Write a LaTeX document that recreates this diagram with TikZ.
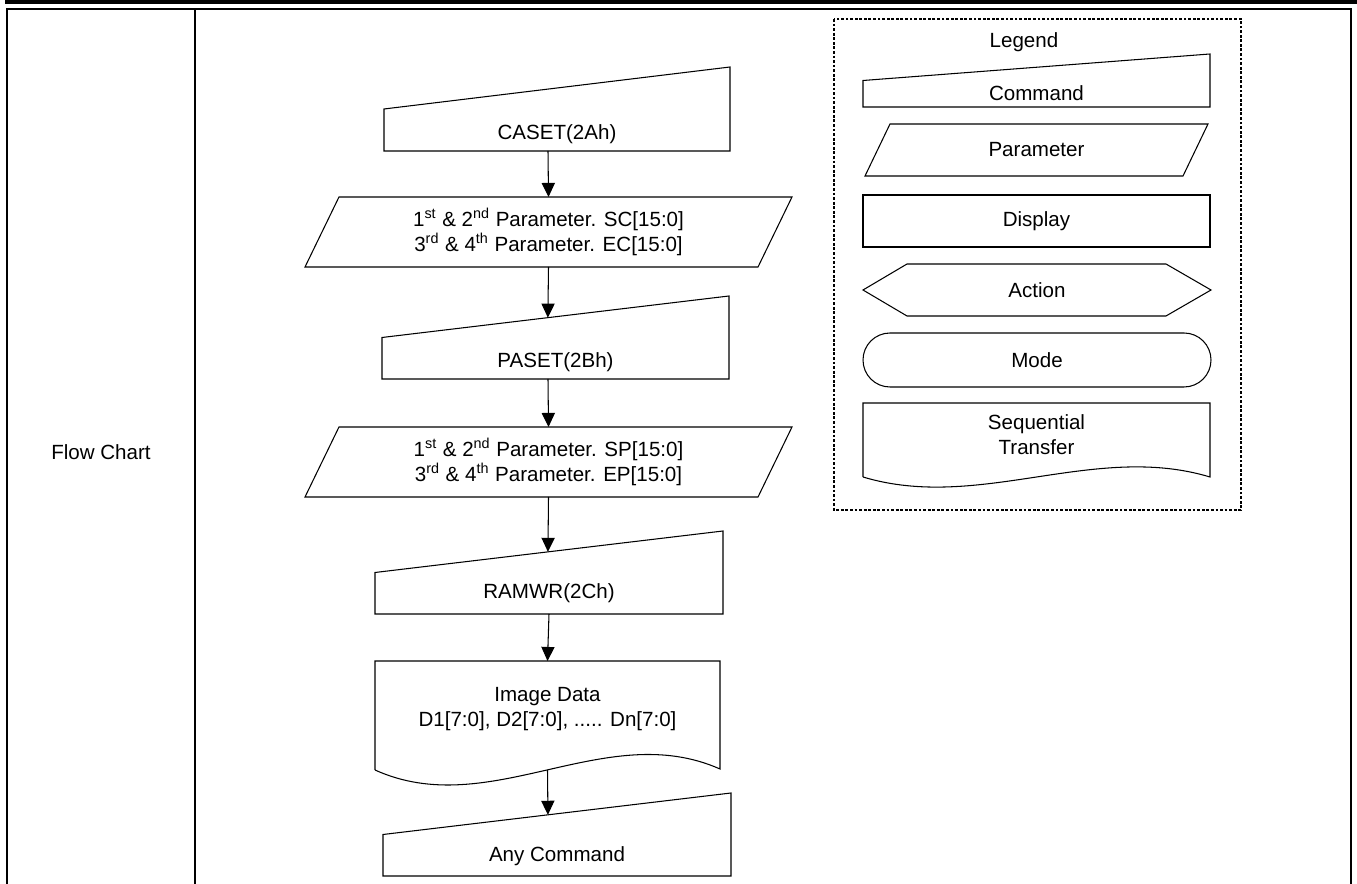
\documentclass[tikz,border=0pt]{standalone}
\usepackage{fontspec}
\setmainfont{Liberation Sans}
\usetikzlibrary{arrows.meta,calc}
\begin{document}
\begin{tikzpicture}[x=0.02cm,y=-0.02cm,
  font=\fontsize{11.7}{14}\selectfont,
  shp/.style={draw=black,line width=0.6pt,line join=miter},
  box/.style 2 args={minimum width=#1*0.02cm,minimum height=#2*0.02cm,inner sep=0pt,outer sep=0pt,align=center},
  txt/.style={inner sep=0pt,align=center},
  arr/.style={line width=0.6pt,-{Triangle[length=8pt,width=7.5pt]}},
  tbl/.style={line width=1.1pt}]
\useasboundingbox (0,0) rectangle (1357,884);
% page frame
\fill[black] (5,0) rectangle (1357,4.5);
\draw[tbl] (7,884) -- (7,9) -- (1351,9) -- (1351,884);
\draw[tbl] (195,9) -- (195,884);
\node[txt] (fc) at (101,452) {Flow Chart};
% ---------- flow chart ----------
% CASET
\node[box={346}{84}] (caset) at (557,109) {};
\draw[shp] (caset.south west) -- (caset.south east) -- (caset.north east) -- (caset.west) -- cycle;
\node[txt] (casett) at (557,134) {CASET(2Ah)};
% Param 1
\node[box={487}{70}] (p1) at (548.5,232) {1\textsuperscript{st} \& 2\textsuperscript{nd} Parameter. SC[15:0]\\3\textsuperscript{rd} \& 4\textsuperscript{th} Parameter. EC[15:0]};
\draw[shp] (p1.south west) -- ($(p1.south east)+(-34,0)$) -- (p1.north east) -- ($(p1.north west)+(34,0)$) -- cycle;
% PASET
\node[box={347}{83}] (paset) at (555.5,337.5) {};
\draw[shp] (paset.south west) -- (paset.south east) -- (paset.north east) -- (paset.west) -- cycle;
\node[txt] (pasett) at (555.5,362) {PASET(2Bh)};
% Param 2
\node[box={487}{70}] (p2) at (548.5,462) {1\textsuperscript{st} \& 2\textsuperscript{nd} Parameter. SP[15:0]\\3\textsuperscript{rd} \& 4\textsuperscript{th} Parameter. EP[15:0]};
\draw[shp] (p2.south west) -- ($(p2.south east)+(-34,0)$) -- (p2.north east) -- ($(p2.north west)+(34,0)$) -- cycle;
% RAMWR
\node[box={348}{83}] (ramwr) at (549,572.5) {};
\draw[shp] (ramwr.south west) -- (ramwr.south east) -- (ramwr.north east) -- (ramwr.west) -- cycle;
\node[txt] (ramwrt) at (549,593) {RAMWR(2Ch)};
% Image data
\node[box={345}{109}] (img) at (547.5,715.5) {};
\draw[shp] (img.south west) -- (img.north west) -- (img.north east) -- ($(img.south east)+(0,-1)$)
  .. controls ($(img.south east)+(-115,-52)$) and ($(img.south west)+(115,52)$) .. (img.south west);
\node[txt] (imgt) at (547.5,709) {Image Data\\D1[7:0], D2[7:0], ..... Dn[7:0]};
% Any command
\node[box={348}{83}] (anyc) at (557,834.5) {};
\draw[shp] (anyc.south west) -- (anyc.south east) -- (anyc.north east) -- (anyc.west) -- cycle;
\node[txt] (anyct) at (557,856) {Any Command};
% connectors
\draw[arr] ($(caset.south)+(-9,0)$) -- (p1.north);
\draw[arr] (p1.south) -- ($(paset.west)!0.478!(paset.north east)$);
\draw[arr] ($(paset.south)+(-7.5,0)$) -- (p2.north);
\draw[arr] (p2.south) -- ($(ramwr.west)!0.497!(ramwr.north east)$);
\draw[arr] (ramwr.south) -- (img.north);
\draw[arr] (img.south) -- ($(anyc.west)!0.474!(anyc.north east)$);
% ---------- legend ----------
\draw[line width=0.8pt,dash pattern=on 1.6pt off 1pt] (834,19) rectangle (1241,510);
\node[txt] (leg) at (1024,42) {Legend};
\node[box={347}{53}] (lcmd) at (1036.5,80.5) {};
\draw[shp] (lcmd.south west) -- (lcmd.south east) -- (lcmd.north east) -- (lcmd.west) -- cycle;
\node[txt] (lcmdt) at (1036.5,93) {Command};
\node[box={343}{52}] (lpar) at (1036.5,150) {Parameter};
\draw[shp] (lpar.south west) -- ($(lpar.south east)+(-25,0)$) -- (lpar.north east) -- ($(lpar.north west)+(25,0)$) -- cycle;
\node[box={347}{52},shp] (ldisp) at (1036.5,221) {Display};
\node[box={348}{52}] (lact) at (1037,290) {Action};
\draw[shp] (lact.west) -- ($(lact.north west)+(44,0)$) -- ($(lact.north east)+(-45,0)$) -- (lact.east) -- ($(lact.south east)+(-45,0)$) -- ($(lact.south west)+(44,0)$) -- cycle;
\node[box={348}{54},shp,rounded corners=0.54cm] (lmode) at (1037,360) {Mode};
\node[box={347}{74}] (lseq) at (1036.5,440) {};
\draw[shp] (lseq.south west) -- (lseq.north west) -- (lseq.north east) -- (lseq.south east)
  .. controls ($(lseq.south east)+(-116,-35)$) and ($(lseq.south west)+(116,35)$) .. (lseq.south west);
\node[txt] (lseqt) at (1036.5,434.5) {Sequential\\Transfer};
\end{tikzpicture}
\end{document}
